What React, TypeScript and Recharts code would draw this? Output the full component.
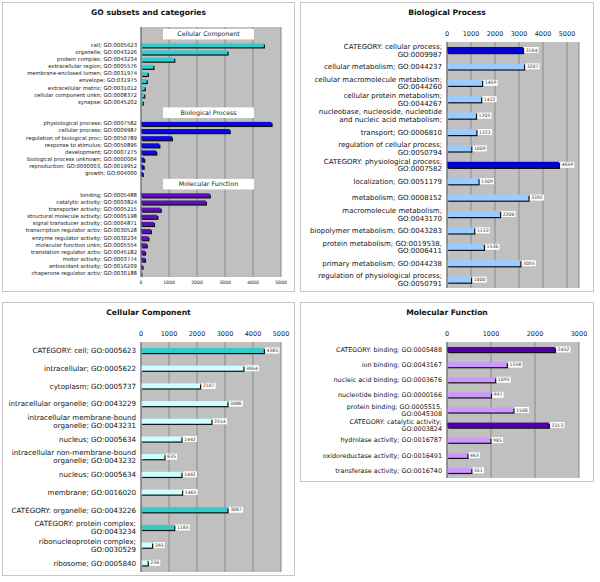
import React from 'react';
import { BarChart, Bar, XAxis, YAxis, CartesianGrid, Cell, LabelList, ReferenceLine } from 'recharts';

const FONT = '"DejaVu Sans", Verdana, sans-serif';

// ---- overview: GO slim subsets ----
const ccSlimNames = [
  'cell; GO:0005623',
  'organelle; GO:0043226',
  'protein complex; GO:0043234',
  'extracellular region; GO:0005576',
  'membrane-enclosed lumen; GO:0031974',
  'envelope; GO:031975',
  'extracellular matrix; GO:0031012',
  'cellular component unkn; GO:0008372',
  'synapse; GO:0045202',
];
const ccSlimValues = [4385, 3087, 1185, 440, 240, 200, 130, 110, 60];

const bpSlimNames = [
  'physiological process; GO:0007582',
  'cellular process; GO:0009987',
  'regulation of biological proc; GO:0050789',
  'response to stimulus; GO:0050896',
  'development; GO:0007275',
  'biological process unknown; GO:0000004',
  'reproduction; GO:0000003, GO:0019952',
  'growth; GO:004000',
];
const bpSlimValues = [4659, 3164, 1100, 650, 540, 110, 90, 60];

const mfSlimNames = [
  'binding; GO:0005488',
  'catalytic activity; GO:0003824',
  'transporter activity; GO:0005215',
  'structural molecule activity; GO:0005198',
  'signal transducer activity; GO:0004871',
  'transcription regulator activ; GO:0030528',
  'enzyme regulator activity; GO:0030234',
  'molecular function unkn; GO:0005554',
  'translation regulator activ; GO:0045182',
  'motor activity; GO:0003774',
  'antioxidant activity; GO:0016209',
  'chaperone regulator activ; GO:0030188',
];
const mfSlimValues = [2452, 2313, 700, 580, 460, 350, 260, 200, 140, 140, 50, 15];

// ---- Biological Process ----
const bpNames = [
  'CATEGORY: cellular process;\nGO:0009987',
  'cellular metabolism; GO:0044237',
  'cellular macromolecule metabolism;\nGO:0044260',
  'cellular protein metabolism;\nGO:0044267',
  'nucleobase, nucleoside, nucleotide\nand nucleic acid metabolism;',
  'transport; GO:0006810',
  'regulation of cellular process;\nGO:0050794',
  'CATEGORY: physiological process;\nGO:0007582',
  'localization; GO:0051179',
  'metabolism; GO:0008152',
  'macromolecule metabolism;\nGO:0043170',
  'biopolymer metabolism; GO:0043283',
  'protein metabolism; GO:0019538,\nGO:0006411',
  'primary metabolism; GO:0044238',
  'regulation of physiological process;\nGO:0050791',
];
const bpValues = [3164, 3207, 1459, 1422, 1205, 1222, 1009, 4659, 1309, 3392, 2206, 1133, 1536, 3055, 1000];
const bpIsCategory = [true, false, false, false, false, false, false, true, false, false, false, false, false, false, false];

// ---- Cellular Component ----
const ccNames = [
  'CATEGORY: cell; GO:0005623',
  'intracellular; GO:0005622',
  'cytoplasm; GO:0005737',
  'intracellular organelle; GO:0043229',
  'intracellular membrane-bound\norganelle; GO:0043231',
  'nucleus; GO:0005634',
  'intracellular non-membrane-bound\norganelle; GO:0043232',
  'nucleus; GO:0005634',
  'membrane; GO:0016020',
  'CATEGORY: organelle; GO:0043226',
  'CATEGORY: protein complex;\nGO:0043234',
  'ribonucleoprotein complex;\nGO:0030529',
  'ribosome; GO:0005840',
];
const ccValues = [4385, 3654, 2107, 3086, 2514, 1442, 835, 1442, 1465, 3087, 1185, 393, 236];
const ccIsCategory = [true, false, false, false, false, false, false, false, false, true, true, false, false];

// ---- Molecular Function ----
const mfNames = [
  'CATEGORY: binding; GO:0005488',
  'ion binding; GO:0043167',
  'nucleic acid binding; GO:0003676',
  'nucleotide binding; GO:0000166',
  'protein binding; GO:0005515,\nGO:0045308',
  'CATEGORY: catalytic activity;\nGO:0003824',
  'hydrolase activity; GO:0016787',
  'oxidoreductase activity; GO:0016491',
  'transferase activity; GO:0016740',
];
const mfValues = [2452, 1358, 1093, 997, 1508, 2313, 985, 463, 551];
const mfIsCategory = [true, false, false, false, false, true, false, false, false];

const ticks5000 = [0, 1000, 2000, 3000, 4000, 5000];
const ticks3000 = [0, 1000, 2000, 3000];

interface Row {
  id: string;
  label: string;
  value: number | null;
  fill: string;
}

const buildRows = (prefix: string, names: string[], values: number[], isCat: boolean[], dark: string, light: string): Row[] =>
  names.map((label, i) => ({ id: `${prefix}${i}`, label, value: values[i], fill: isCat[i] ? dark : light }));

const overviewGroups = [
  { key: 'cc', header: 'Cellular Component', names: ccSlimNames, values: ccSlimValues, color: '#33CCCC' },
  { key: 'bp', header: 'Biological Process', names: bpSlimNames, values: bpSlimValues, color: '#0A0ADC' },
  { key: 'mf', header: 'Molecular Function', names: mfSlimNames, values: mfSlimValues, color: '#5A12B4' },
];
const overviewRows: Row[] = [];
const overviewHeaders: { at: string; text: string }[] = [];
overviewGroups.forEach((g) => {
  overviewRows.push({ id: `${g.key}-gap0`, label: '', value: null, fill: 'none' });
  overviewRows.push({ id: `${g.key}-gap1`, label: '', value: null, fill: 'none' });
  overviewHeaders.push({ at: `${g.key}-gap0`, text: g.header });
  g.names.forEach((n, i) => overviewRows.push({ id: `${g.key}${i}`, label: n, value: g.values[i], fill: g.color }));
});

const ShadowBar = (props: any) => {
  const { x, y, width, height, fill } = props;
  if (!width || width <= 0) return null;
  return (
    <g>
      <rect x={x + 1.2} y={y + 1.2} width={width} height={height} fill="#111" />
      <rect x={x} y={y} width={width} height={height} fill={fill} />
    </g>
  );
};

const ValueTag = (props: any) => {
  const { x, y, width, height, value } = props;
  if (value == null) return null;
  const txt = String(value);
  const bx = x + width + 1.5;
  const boxW = txt.length * 2.9 + 2.5;
  return (
    <g>
      <rect x={bx} y={y + height / 2 - 3} width={boxW} height={6} fill="#fff" />
      <text x={bx + 1.2} y={y + height / 2 + 1.6} fontSize={4.6} fill="#333" fontFamily={FONT}>
        {txt}
      </text>
    </g>
  );
};

const HeaderTag = (props: any) => {
  const { viewBox, text } = props;
  if (!viewBox) return null;
  const bx = viewBox.x + 22;
  return (
    <g>
      <rect x={bx} y={viewBox.y - 5.3} width={91} height={10.6} fill="#fff" />
      <text x={bx + 45.5} y={viewBox.y + 2.2} textAnchor="middle" fontSize={6.3} fill="#222" fontFamily={FONT}>
        {text}
      </text>
    </g>
  );
};

const makeTick = (rows: Row[], fontSize: number, lineHeight: number) => {
  const lookup: Record<string, string> = {};
  rows.forEach((r) => (lookup[r.id] = r.label));
  return (props: any) => {
    const { x, y, payload } = props;
    const label = lookup[payload.value];
    if (!label) return null;
    const lines = label.split('\n');
    const start = -((lines.length - 1) * lineHeight) / 2 + fontSize * 0.35;
    return (
      <text x={x} y={y} textAnchor="end" fontSize={fontSize} fill="#111" stroke="none" fontFamily={FONT}>
        {lines.map((ln, i) => (
          <tspan key={i} x={x} dy={i === 0 ? start : lineHeight}>
            {ln}
          </tspan>
        ))}
      </text>
    );
  };
};

const makeValueTick = (fontSize: number, top: boolean) => (props: any) => {
  const { x, y, payload } = props;
  return (
    <text
      x={x}
      y={top ? y : y + fontSize * 0.8}
      textAnchor="middle"
      fontSize={fontSize}
      fill="#222"
      stroke="none"
      fontFamily={FONT}
    >
      {payload.value}
    </text>
  );
};

interface PanelProps {
  title: string;
  left: number;
  top: number;
  width: number;
  height: number;
  rows: Row[];
  domain: [number, number];
  ticks: number[];
  axisTop: boolean;
  margin: { top: number; right: number; bottom: number; left: number };
  yWidth: number;
  xHeight: number;
  labelFont: number;
  lineHeight: number;
  tickFont: number;
  titleFont: number;
  barSize: number;
  showValues: boolean;
  headers?: { at: string; text: string }[];
}

const Panel: React.FC<PanelProps> = (p) => (
  <div
    style={{
      position: 'absolute',
      left: p.left,
      top: p.top,
      width: p.width,
      height: p.height,
      border: '1px solid #c6c6c6',
      boxSizing: 'border-box',
      background: '#fff',
    }}
  >
    <div
      style={{
        position: 'absolute',
        top: 6,
        left: 0,
        width: '100%',
        textAlign: 'center',
        fontFamily: FONT,
        fontWeight: 'bold',
        fontSize: p.titleFont,
        color: '#111',
        lineHeight: 1,
      }}
    >
      {p.title}
    </div>
    <div style={{ position: 'absolute', left: 0, top: 0, opacity: 0.999 }}>
      <BarChart layout="vertical" width={p.width - 2} height={p.height - 2} data={p.rows} margin={p.margin} barCategoryGap={0}>
        <CartesianGrid horizontal={false} stroke="#8a8a8a" fill="#c0c0c0" />
        <XAxis
          type="number"
          domain={p.domain}
          ticks={p.ticks}
          interval={0}
          orientation={p.axisTop ? 'top' : 'bottom'}
          height={p.xHeight}
          axisLine={false}
          tickLine={false}
          tickSize={0}
          tickMargin={p.axisTop ? 6 : 3}
          allowDataOverflow
          tick={makeValueTick(p.tickFont, p.axisTop)}
        />
        <YAxis
          type="category"
          dataKey="id"
          width={p.yWidth}
          interval={0}
          tickLine={false}
          tickSize={0}
          tickMargin={p.axisTop ? 5 : 4}
          axisLine={{ stroke: '#6f6f6f' }}
          tick={makeTick(p.rows, p.labelFont, p.lineHeight)}
        />
        <Bar dataKey="value" barSize={p.barSize} isAnimationActive={false} shape={ShadowBar}>
          {p.rows.map((r) => (
            <Cell key={r.id} fill={r.fill} />
          ))}
          {p.showValues && <LabelList dataKey="value" content={ValueTag} />}
        </Bar>
        {(p.headers || []).map((h) => (
          <ReferenceLine
            key={h.at}
            y={h.at}
            position="end"
            stroke="transparent"
            label={<HeaderTag text={h.text} />}
          />
        ))}
      </BarChart>
    </div>
  </div>
);

export default function App() {
  const bpRows = buildRows('bp', bpNames, bpValues, bpIsCategory, '#0000CC', '#99CCFF');
  const ccRows = buildRows('cc', ccNames, ccValues, ccIsCategory, '#33CCCC', '#CCFFFF');
  const mfRows = buildRows('mf', mfNames, mfValues, mfIsCategory, '#5200A6', '#CC99FF');
  return (
    <div style={{ position: 'absolute', left: 0, top: 0, width: 600, height: 582, background: '#fff' }}>
      <Panel
        title="GO subsets and categories"
        left={2}
        top={2}
        width={293}
        height={290}
        rows={overviewRows}
        headers={overviewHeaders}
        domain={[0, 5000]}
        ticks={ticks5000}
        axisTop={false}
        margin={{ top: 24, right: 13, bottom: 0, left: 0 }}
        yWidth={138}
        xHeight={14}
        labelFont={5.3}
        lineHeight={6}
        tickFont={4.6}
        titleFont={7.6}
        barSize={4}
        showValues={false}
      />
      <Panel
        title="Biological Process"
        left={300}
        top={2}
        width={294}
        height={290}
        rows={bpRows}
        domain={[0, 5500]}
        ticks={ticks5000}
        axisTop
        margin={{ top: 27, right: 14, bottom: 3, left: 0 }}
        yWidth={146}
        xHeight={12}
        labelFont={7}
        lineHeight={7.8}
        tickFont={6.5}
        titleFont={7.6}
        barSize={6}
        showValues
      />
      <Panel
        title="Cellular Component"
        left={2}
        top={302}
        width={293}
        height={274}
        rows={ccRows}
        domain={[0, 5000]}
        ticks={ticks5000}
        axisTop
        margin={{ top: 27, right: 13, bottom: 3, left: 0 }}
        yWidth={138}
        xHeight={12}
        labelFont={7.1}
        lineHeight={8}
        tickFont={6.5}
        titleFont={7.6}
        barSize={5}
        showValues
      />
      <Panel
        title="Molecular Function"
        left={300}
        top={302}
        width={294}
        height={180}
        rows={mfRows}
        domain={[0, 3000]}
        ticks={ticks3000}
        axisTop
        margin={{ top: 27, right: 14, bottom: 3, left: 0 }}
        yWidth={146}
        xHeight={12}
        labelFont={6.4}
        lineHeight={7}
        tickFont={6.5}
        titleFont={7.6}
        barSize={5}
        showValues
      />
    </div>
  );
}
